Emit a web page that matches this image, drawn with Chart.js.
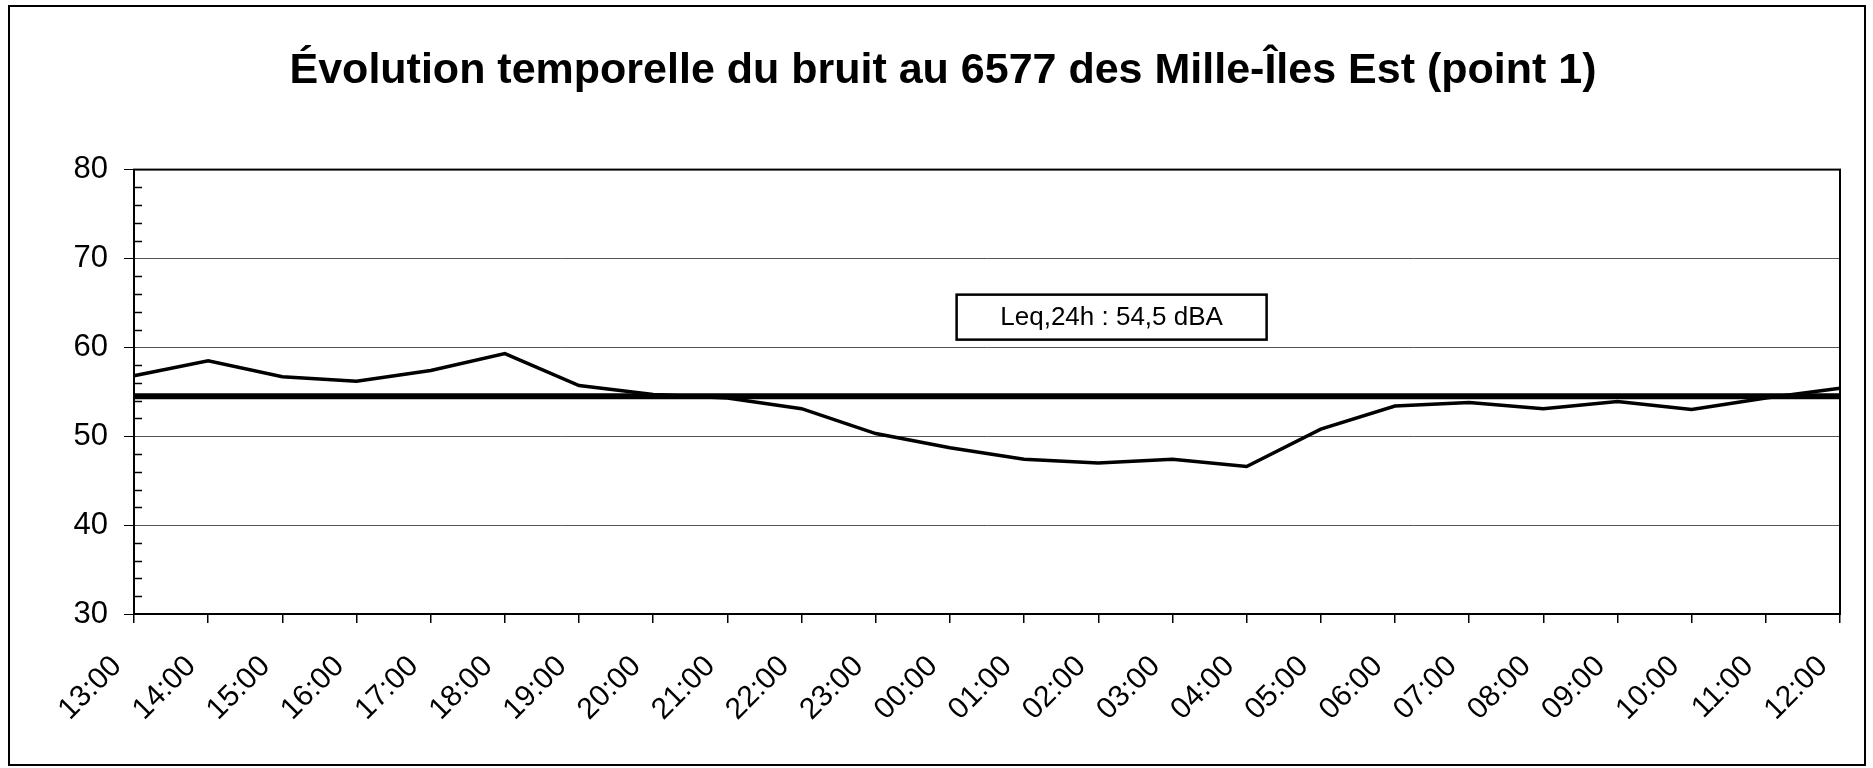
<!DOCTYPE html>
<html>
<head>
    <title>Évolution temporelle du bruit</title>
    <meta charset="utf-8" />
    <script src="https://cdn.jsdelivr.net/npm/chart.js@4"></script>
    <style>
        html, body { margin: 0; padding: 0; background: #fff; }
        #cadre { position: absolute; left: 8px; top: 5px; width: 1858px; height: 761px; border: 2px solid #000; box-sizing: border-box; }
        #zone { position: absolute; left: 0; top: 0; width: 1873px; height: 768px; }
    </style>
</head>
<body>
    <div id="cadre"></div>
    <div id="zone"><canvas id="graphiqueBruit"></canvas></div>

    <script>
        // Données
        const heures = ['13:00', '14:00', '15:00', '16:00', '17:00', '18:00', '19:00', '20:00', '21:00', '22:00', '23:00',
                        '00:00', '01:00', '02:00', '03:00', '04:00', '05:00', '06:00', '07:00', '08:00', '09:00', '10:00', '11:00', '12:00'];
        const niveauxDBA = [56.8, 58.5, 56.7, 56.2, 57.4, 59.3, 55.7, 54.7, 54.3, 53.1, 50.3,
                            48.7, 47.4, 47.0, 47.4, 46.6, 50.8, 53.4, 53.8, 53.1, 53.9, 53.0, 54.3, 55.4];
        const leq24h = 54.5;
        const yMin = 30, yMax = 80, yPas = 10, yPasMineur = 2;
        const titre = 'Évolution temporelle du bruit au 6577 des Mille-Îles Est (point 1)';
        const texteLeq = 'Leq,24h : 54,5 dBA';

        const police = "'Liberation Sans', Arial, sans-serif";

        // cadre du graphique, petites graduations et encadré Leq
        const decorations = {
            id: 'decorations',
            afterDraw(chart) {
                const c = chart.ctx, a = chart.chartArea;
                const y = chart.scales.y, x = chart.scales.x;
                c.save();
                c.strokeStyle = '#000';
                c.lineWidth = 2;
                c.strokeRect(a.left, a.top, a.right - a.left, a.bottom - a.top);

                c.lineWidth = 1.5;
                for (let v = yMin; v <= yMax; v += yPasMineur) {
                    if (v % yPas === 0) continue;
                    const py = Math.round(y.getPixelForValue(v)) + 0.5;
                    c.beginPath();
                    c.moveTo(a.left, py);
                    c.lineTo(a.left + 8, py);
                    c.stroke();
                }

                // encadré Leq
                const cx = x.getPixelForValue(13.18);
                const cy = y.getPixelForValue(63.4);
                const w = 310, h = 45;
                c.fillStyle = '#fff';
                c.fillRect(cx - w / 2, cy - h / 2, w, h);
                c.lineWidth = 2.5;
                c.strokeRect(cx - w / 2, cy - h / 2, w, h);
                c.fillStyle = '#000';
                c.font = '26px ' + police;
                c.textAlign = 'center';
                c.textBaseline = 'middle';
                c.fillText(texteLeq, cx, cy + 1);
                c.restore();
            }
        };

        const ctx = document.getElementById('graphiqueBruit').getContext('2d');
        const graphique = new Chart(ctx, {
            type: 'line',
            data: {
                labels: heures,
                datasets: [
                    {
                        label: 'Niveau sonore (dBA)',
                        data: niveauxDBA,
                        borderColor: '#000',
                        borderWidth: 3.5,
                        pointRadius: 0,
                        tension: 0,
                        fill: false
                    },
                    {
                        label: 'Leq,24h',
                        data: [{ x: heures[0], y: leq24h }, { x: heures[heures.length - 1], y: leq24h }],
                        borderColor: '#000',
                        borderWidth: 6,
                        pointRadius: 0,
                        fill: false
                    }
                ]
            },
            options: {
                responsive: true,
                maintainAspectRatio: false,
                animation: false,
                layout: { padding: { left: 46, right: 33, top: 0, bottom: 0 } },
                plugins: {
                    legend: { display: false },
                    tooltip: { enabled: false },
                    title: {
                        display: true,
                        text: titre,
                        color: '#000',
                        font: { family: police, size: 43, weight: 'bold' },
                        padding: { top: 45, bottom: 73 }
                    }
                },
                scales: {
                    x: {
                        offset: false,
                        grid: { drawOnChartArea: false, drawTicks: true, tickLength: 9, color: '#000', lineWidth: 1.5 },
                        border: { color: '#000', width: 2 },
                        ticks: {
                            autoSkip: false,
                            maxRotation: 45,
                            minRotation: 45,
                            color: '#000',
                            padding: 26,
                            labelOffset: -17,
                            font: { family: police, size: 30 }
                        },
                        afterFit(s) {
                            s.height = 154;
                            s.paddingLeft = 0;
                            s.paddingRight = 0;
                        }
                    },
                    y: {
                        min: yMin,
                        max: yMax,
                        ticks: {
                            stepSize: yPas,
                            color: '#000',
                            padding: 16,
                            font: { family: police, size: 31 }
                        },
                        grid: { color: '#555', lineWidth: 1, tickLength: 10, tickColor: '#000' },
                        border: { color: '#000', width: 2 },
                        afterFit(s) { s.width = 88; }
                    }
                }
            },
            plugins: [decorations]
        });
    </script>
</body>
</html>
